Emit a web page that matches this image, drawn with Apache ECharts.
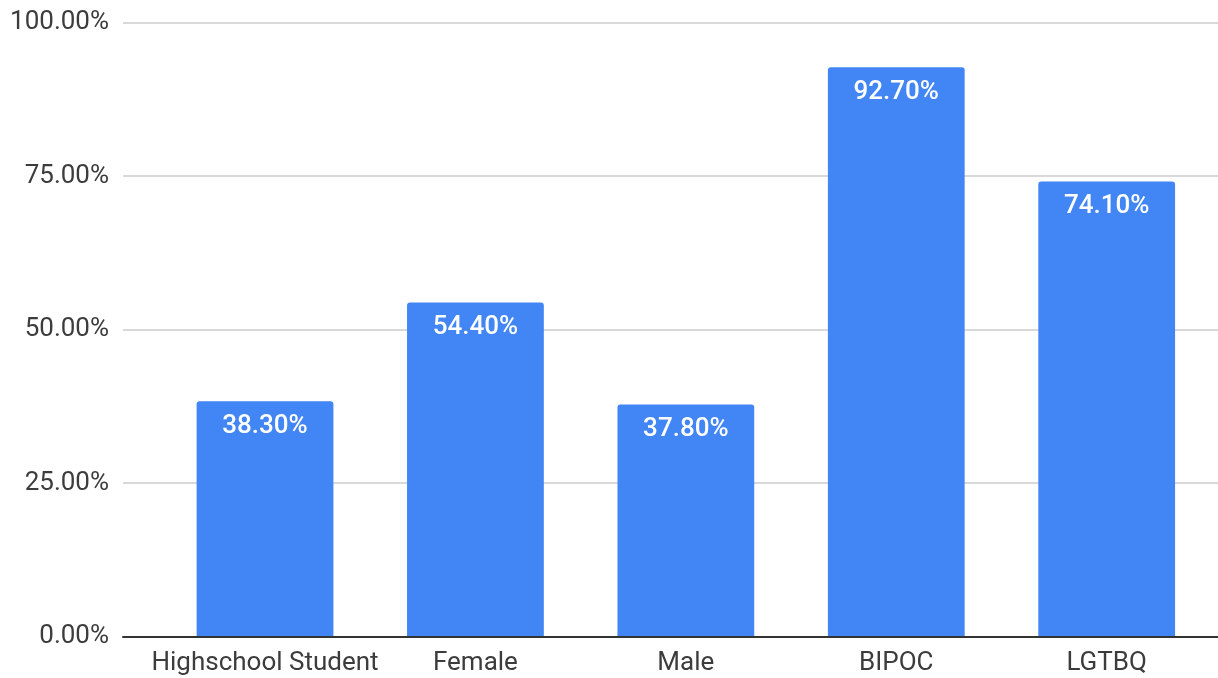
<!DOCTYPE html>
<html>
<head>
<meta charset="utf-8">
<style>
  html, body { margin: 0; padding: 0; background: #ffffff; }
  #chart { width: 1218px; height: 678px; }
</style>
<script src="https://cdn.jsdelivr.net/npm/echarts@6/dist/echarts.min.js"></script>
</head>
<body>
<div id="chart"></div>
<script>
// Share of each group, in percent
const categories = ['Highschool Student', 'Female', 'Male', 'BIPOC', 'LGTBQ'];
const shares = [38.3, 54.4, 37.8, 92.7, 74.1];
const yTicks = [0, 25, 50, 75, 100];

const FONT = 'Roboto, Arial, sans-serif';
const TOP = 22.5;
const BOTTOM = 41.5;

const chart = echarts.init(document.getElementById('chart'), null, { renderer: 'canvas' });

chart.setOption({
  animation: false,
  backgroundColor: '#ffffff',
  grid: [
    // frame grid: value labels, gridlines and baseline
    { left: 123, right: 0, top: TOP, bottom: BOTTOM, containLabel: false },
    // bar grid: category bands
    { left: 159.8, right: 6.1, top: TOP, bottom: BOTTOM, containLabel: false }
  ],
  xAxis: [
    {
      gridIndex: 0, type: 'value', min: 0, max: 1,
      axisLine: { show: true, lineStyle: { color: '#333333', width: 2 } },
      axisTick: { show: false }, axisLabel: { show: false }, splitLine: { show: false },
      z: 5
    },
    {
      gridIndex: 1, type: 'category', data: categories,
      axisLine: { show: false }, axisTick: { show: false },
      axisLabel: { color: '#3c3c3c', fontSize: 26, fontFamily: FONT, margin: 14, interval: 0 }
    }
  ],
  yAxis: [
    {
      gridIndex: 0, type: 'value', min: yTicks[0], max: yTicks[yTicks.length - 1], interval: 25,
      axisLine: { show: false }, axisTick: { show: false },
      axisLabel: {
        color: '#3c3c3c', fontSize: 26, fontFamily: FONT, margin: 14,
        formatter: v => v.toFixed(2) + '%'
      },
      splitLine: { show: true, lineStyle: { color: '#cccccc', width: 1.5 } }
    },
    {
      gridIndex: 1, type: 'value', min: yTicks[0], max: yTicks[yTicks.length - 1],
      show: false, splitLine: { show: false }
    }
  ],
  series: [
    {
      type: 'bar',
      xAxisIndex: 1, yAxisIndex: 1,
      data: shares,
      barWidth: '65%',
      itemStyle: { color: '#4285f4', borderRadius: [3, 3, 0, 0] },
      label: {
        show: true, position: 'insideTop', distance: 12,
        color: '#ffffff', fontSize: 26, fontWeight: 500, fontFamily: FONT,
        formatter: p => p.value.toFixed(2) + '%'
      }
    }
  ]
});
</script>
</body>
</html>
